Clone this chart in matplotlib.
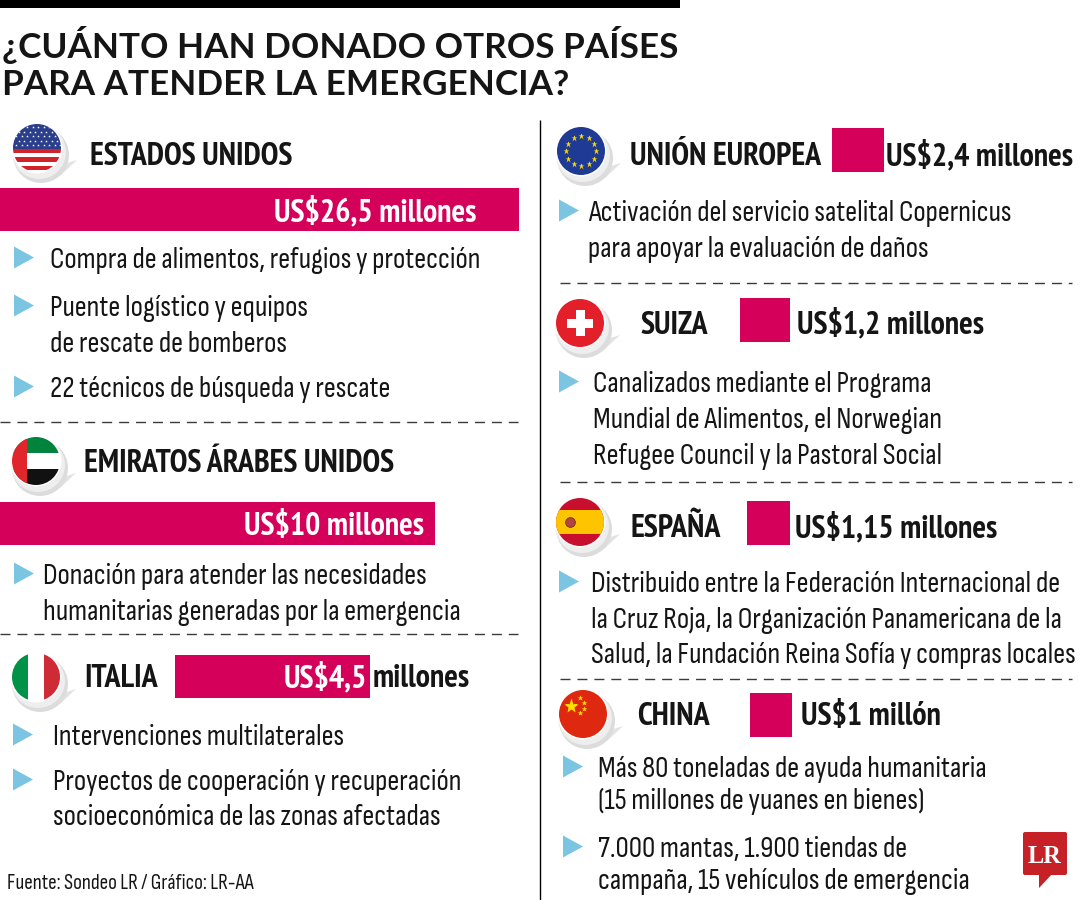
import matplotlib
matplotlib.use("Agg")
import matplotlib.pyplot as plt
from matplotlib import font_manager as fm
from matplotlib.patches import Circle, Rectangle, Polygon, FancyBboxPatch
import numpy as np

# ---------------- data ----------------
title_lines = ["¿CUÁNTO HAN DONADO OTROS PAÍSES", "PARA ATENDER LA EMERGENCIA?"]
countries = ["ESTADOS UNIDOS", "EMIRATOS ÁRABES UNIDOS", "ITALIA",
             "UNIÓN EUROPEA", "SUIZA", "ESPAÑA", "CHINA"]
flags = ["us", "ae", "it", "eu", "ch", "es", "cn"]
amounts = [26.5, 10, 4.5, 2.4, 1.2, 1.15, 1]  # millones de US$
details = [
    ["Compra de alimentos, refugios y protección",
     "Puente logístico y equipos\nde rescate de bomberos",
     "22 técnicos de búsqueda y rescate"],
    ["Donación para atender las necesidades\nhumanitarias generadas por la emergencia"],
    ["Intervenciones multilaterales",
     "Proyectos de cooperación y recuperación\nsocioeconómica de las zonas afectadas"],
    ["Activación del servicio satelital Copernicus\npara apoyar la evaluación de daños"],
    ["Canalizados mediante el Programa\nMundial de Alimentos, el Norwegian\nRefugee Council y la Pastoral Social"],
    ["Distribuido entre la Federación Internacional de\nla Cruz Roja, la Organización Panamericana de la\nSalud, la Fundación Reina Sofía y compras locales"],
    ["Más 80 toneladas de ayuda humanitaria\n(15 millones de yuanes en bienes)",
     "7.000 mantas, 1.900 tiendas de\ncampaña, 15 vehículos de emergencia"],
]
source = "Fuente: Sondeo LR / Gráfico: LR-AA"

# ---------------- layout (pixels) ----------------
layout = [
    dict(flag=(37, 148), head=(90, 165), bar=(0, 188, 519, 231), amt="in", amt_x=476, amt_y=221,
         tri_x=14, text_x=50, bases=[268, 316, 397], ls=36),
    dict(flag=(36, 461), head=(84, 472), bar=(0, 502, 435, 545), amt="in", amt_x=424, amt_y=535,
         tri_x=14, text_x=43, bases=[584], ls=35.5),
    dict(flag=(36, 677), head=(84, 687), bar=(175, 655, 370, 698), amt="split", amt_x=367, amt_y=687,
         tri_x=13, text_x=53, bases=[745, 790], ls=35),
    dict(flag=(581, 151), head=(630, 165), bar=(832, 128, 884, 172), amt="out", amt_x=886, amt_y=165,
         tri_x=559, text_x=588, bases=[221], ls=36),
    dict(flag=(580, 323), head=(640, 334), bar=(740, 298, 790, 342), amt="out", amt_x=797, amt_y=333,
         tri_x=559, text_x=593, bases=[392], ls=36),
    dict(flag=(580, 522), head=(630, 537), bar=(747, 501, 790, 545), amt="out", amt_x=795, amt_y=537,
         tri_x=559, text_x=591, bases=[592], ls=35.5),
    dict(flag=(583, 714), head=(637, 725), bar=(750, 693, 792, 737), amt="out", amt_x=801, amt_y=725,
         tri_x=563, text_x=598, bases=[777, 857], ls=32),
]

BAR = "#D4005A"
BULLET = "#7CC5E2"
INK = "#151515"

# ---------------- fonts ----------------
def _w(f):
    try:
        return int(f.weight)
    except Exception:
        return fm.weight_dict.get(f.weight, 400)

def find_font(cands, weight, tol=150):
    tl = fm.fontManager.ttflist
    for name in cands:
        fl = [f for f in tl if f.name == name and f.style == "normal"]
        if fl:
            best = min(fl, key=lambda f: abs(_w(f) - weight))
            if abs(_w(best) - weight) <= tol:
                return fm.FontProperties(fname=best.fname)
    return fm.FontProperties(family="DejaVu Sans", weight=weight, stretch="condensed")

FP_HEAD = find_font(["PT Sans Narrow", "Open Sans Condensed", "Barlow Condensed", "Archivo Narrow",
                     "Roboto Condensed", "Fira Sans Condensed", "Encode Sans Condensed",
                     "IBM Plex Sans Condensed", "Asap Condensed", "Saira SemiCondensed",
                     "Liberation Sans Narrow"], 700, tol=100)
FP_BODY = find_font(["Sofia Sans Condensed", "PT Sans Narrow", "Roboto Condensed",
                     "Barlow Condensed", "Fira Sans Condensed", "Open Sans Condensed",
                     "Encode Sans Condensed", "IBM Plex Sans Condensed", "Asap Condensed",
                     "Archivo Narrow", "Saira SemiCondensed", "Liberation Sans Narrow"], 380, tol=120)
FP_TITLE = find_font(["Source Sans 3", "Source Sans Pro", "Lato", "Open Sans", "Noto Sans"], 700, tol=100)
FP_LOGO = find_font(["Liberation Serif", "DejaVu Serif"], 700, tol=100)

# ---------------- figure ----------------
fig = plt.figure(figsize=(10.8, 9), dpi=100)
ax = fig.add_axes([0, 0, 1, 1])
ax.set_xlim(0, 1080)
ax.set_ylim(900, 0)
ax.axis("off")
renderer = fig.canvas.get_renderer()


def sized(fp, size):
    p = fp.copy()
    p.set_size(size)
    return p


def text_width(s, fp, size=20):
    t = ax.text(0, 0, s, fontproperties=sized(fp, size))
    w = t.get_window_extent(renderer).width
    t.remove()
    return w


def fit(pairs, fp):
    vals = [20 * tw / text_width(s, fp, 20) for s, tw in pairs]
    return float(np.mean(vals))


S_TITLE = fit([(title_lines[0], 674), (title_lines[1], 568)], FP_TITLE)
S_HEAD = fit([("EMIRATOS ÁRABES UNIDOS", 314), ("ESTADOS UNIDOS", 199), ("UNIÓN EUROPEA", 191)], FP_HEAD)
S_AMT = fit([("US\\$26,5 millones", 204), ("US\\$1,15 millones", 200)], FP_HEAD)
S_BODY = fit([("Compra de alimentos, refugios y protección", 442),
              ("Salud, la Fundación Reina Sofía y compras locales", 485),
              ("Intervenciones multilaterales", 294)], FP_BODY)
S_BODY = min(S_BODY, fit([("Salud, la Fundación Reina Sofía y compras locales", 484)], FP_BODY))
S_SRC = fit([(source, 246)], FP_BODY)
S_LOGO = fit([("LR", 34)], FP_LOGO)


def fmt_amount(v):
    num = f"{v:g}".replace(".", ",")
    unit = "millón" if v == 1 else "millones"
    return "US\\$" + num, unit


# top rule and title
ax.add_patch(Rectangle((0, 0), 680, 8, color="black", lw=0))
ax.text(2, 58, title_lines[0], fontproperties=sized(FP_TITLE, S_TITLE), color=INK, va="baseline")
ax.text(2, 95, title_lines[1], fontproperties=sized(FP_TITLE, S_TITLE), color=INK, va="baseline")

# column divider
ax.plot([540, 540], [120, 900], color="black", lw=1.0, solid_capstyle="butt")

# dashed separators
for y in [422, 634]:
    ax.plot([0, 518], [y, y], color="#3a3a3a", lw=1.0, linestyle=(0, (7.2, 5)))
for y in [283, 482, 679]:
    ax.plot([560, 1072], [y, y], color="#3a3a3a", lw=1.0, linestyle=(0, (7.2, 5)))


# ---------------- flags ----------------
def draw_flag(kind, cx, cy, r=24):
    # soft shadow bubble
    ax.add_patch(Polygon([(cx + 14, cy + 20), (cx + 40, cy + 12), (cx + 24, cy + 27)],
                         closed=True, color="#e3e3e3", lw=0, zorder=2))
    ax.add_patch(Circle((cx + 4, cy + 7), r + 4, color="#dcdcdc", lw=0, zorder=2))
    ax.add_patch(Circle((cx + 2, cy + 4), r + 3, color="#eeeeee", lw=0, zorder=2))
    ax.add_patch(Circle((cx, cy), r + 1.5, color="white", lw=0, zorder=3))
    clip = Circle((cx, cy), r, transform=ax.transData)
    arts = []

    def rect(x0, y0, w, h, c):
        p = Rectangle((x0, y0), w, h, color=c, lw=0, zorder=4)
        ax.add_patch(p)
        arts.append(p)

    def stars(xs, ys, size, c, marker="*"):
        ln, = ax.plot(xs, ys, linestyle="none", marker=marker, ms=size, color=c, mec="none", zorder=5)
        arts.append(ln)

    x0, y0, d = cx - r, cy - r, 2 * r
    if kind == "us":
        rect(x0, y0, d, d, "white")
        h = d / 13.0 * 1.15
        y = cy + 1
        i = 0
        while y < cy + r:
            if i % 2 == 0:
                rect(x0, y, d, h, "#D2232A")
            y += h
            i += 1
        rect(x0, y0, d, r + 1, "#2B3E8C")
        gx, gy = np.meshgrid(np.arange(cx - r + 3, cx + r, 5.5), np.arange(cy - r + 3, cy, 4.5))
        gx = gx + (np.arange(gx.shape[0])[:, None] % 2) * 2.7
        stars(gx.ravel(), gy.ravel(), 2.0, "white")
    elif kind == "ae":
        rect(x0, y0, d, d / 3, "#00843D")
        rect(x0, y0 + d / 3, d, d / 3, "white")
        rect(x0, y0 + 2 * d / 3, d, d / 3 + 1, "#111111")
        rect(x0, y0, 15, d, "#E0262B")
    elif kind == "it":
        rect(x0, y0, d / 3, d, "#009246")
        rect(x0 + d / 3, y0, d / 3, d, "white")
        rect(x0 + 2 * d / 3, y0, d / 3 + 1, d, "#CE2B37")
    elif kind == "eu":
        rect(x0, y0, d, d, "#1E3A94")
        a = np.linspace(0, 2 * np.pi, 13)[:-1]
        stars(cx + 15 * np.cos(a), cy + 15 * np.sin(a), 5.0, "#FFDD00")
    elif kind == "ch":
        rect(x0, y0, d, d, "#E3202A")
        rect(cx - 4.5, cy - 13, 9, 26, "white")
        rect(cx - 13, cy - 4.5, 26, 9, "white")
    elif kind == "es":
        rect(x0, y0, d, d, "#C8102E")
        rect(x0, y0 + d / 4, d, d / 2, "#FFC400")
        ln, = ax.plot([cx - 10], [cy], linestyle="none", marker="o", ms=7, color="#B2453C",
                      mec="#7a2a20", mew=0.6, zorder=5)
        arts.append(ln)
    elif kind == "cn":
        rect(x0, y0, d, d, "#DE2910")
        stars([cx - 12], [cy - 8], 11, "#FFDE00")
        stars([cx - 3, cx + 1, cx + 1, cx - 3], [cy - 16, cy - 11, cy - 5, cy - 1], 4, "#FFDE00")
    for a_ in arts:
        a_.set_clip_path(clip)


# ---------------- sections ----------------
for name, kind, val, det, L in zip(countries, flags, amounts, details, layout):
    draw_flag(kind, *L["flag"])
    ax.text(L["head"][0], L["head"][1], name, fontproperties=sized(FP_HEAD, S_HEAD),
            color=INK, va="baseline", zorder=6)
    bx0, by0, bx1, by1 = L["bar"]
    ax.barh([(by0 + by1) / 2], [bx1 - bx0], left=[bx0], height=by1 - by0, color=BAR, lw=0, zorder=3)
    num, unit = fmt_amount(val)
    fpa = sized(FP_HEAD, S_AMT)
    if L["amt"] == "in":
        ax.text(L["amt_x"], L["amt_y"], num + " " + unit, fontproperties=fpa, color="white",
                ha="right", va="baseline", zorder=6)
    elif L["amt"] == "split":
        ax.text(L["amt_x"], L["amt_y"], num, fontproperties=fpa, color="white",
                ha="right", va="baseline", zorder=6)
        ax.text(L["amt_x"] + 6, L["amt_y"], unit, fontproperties=fpa, color=INK,
                ha="left", va="baseline", zorder=6)
    else:
        ax.text(L["amt_x"], L["amt_y"], num + " " + unit, fontproperties=fpa, color=INK,
                ha="left", va="baseline", zorder=6)
    fpb = sized(FP_BODY, S_BODY)
    for item, base in zip(det, L["bases"]):
        tx = L["tri_x"]
        cyt = base - 10.5
        ax.add_patch(Polygon([(tx, cyt - 11), (tx, cyt + 11), (tx + 20, cyt)], closed=True,
                             color=BULLET, lw=0, zorder=5))
        for k, line in enumerate(item.split("\n")):
            ax.text(L["text_x"], base + k * L["ls"], line, fontproperties=fpb, color=INK,
                    va="baseline", zorder=6)

# source
ax.text(7, 889, source, fontproperties=sized(FP_BODY, S_SRC), color=INK, va="baseline")

# LR logo
ax.add_patch(FancyBboxPatch((1023, 832), 44, 43, boxstyle="round,pad=0,rounding_size=2",
                            color="#C62127", lw=0, zorder=5))
ax.add_patch(Polygon([(1039, 873), (1039, 888), (1053, 873)], closed=True, color="#C62127",
                     lw=0, zorder=5))
ax.text(1045, 863, "LR", fontproperties=sized(FP_LOGO, S_LOGO), color="white",
        ha="center", va="baseline", zorder=6)

fig.savefig("out.png", dpi=100, facecolor="white")
